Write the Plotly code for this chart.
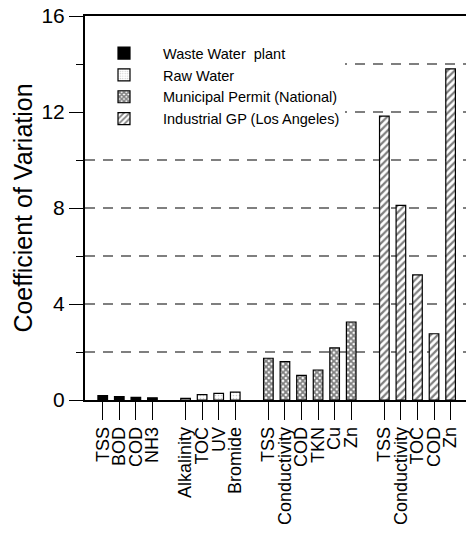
import plotly.graph_objects as go

# ---- data ----
series_names = ["Waste Water  plant", "Raw Water", "Municipal Permit (National)", "Industrial GP (Los Angeles)"]

ww_params = ["TSS", "BOD", "COD", "NH3"]
ww_cv = [0.18, 0.14, 0.11, 0.09]

raw_params = ["Alkalinity", "TOC", "UV", "Bromide"]
raw_cv = [0.07, 0.22, 0.28, 0.33]

mun_params = ["TSS", "Conductivity", "COD", "TKN", "Cu", "Zn"]
mun_cv = [1.74, 1.60, 1.03, 1.25, 2.17, 3.25]

ind_params = ["TSS", "Conductivity", "TOC", "COD", "Zn"]
ind_cv = [11.83, 8.11, 5.21, 2.76, 13.8]

y_tick_vals = [0, 4, 8, 12, 16]

groups = [ww_params, raw_params, mun_params, ind_params]
values = [ww_cv, raw_cv, mun_cv, ind_cv]

# category slots: groups separated by one empty slot gap
positions = []
start = 0
for g in groups:
    positions.append([start + i for i in range(len(g))])
    start += len(g) + 1

styles = [
    dict(marker_color="black", marker_pattern=dict(shape="")),
    dict(marker_color="white", marker_pattern=dict(shape=".", fgcolor="#999999", bgcolor="white", size=3, solidity=0.25)),
    dict(marker_color="black", marker_pattern=dict(shape="x", fgcolor="black", bgcolor="white", size=4, solidity=0.7)),
    dict(marker_color="white", marker_pattern=dict(shape="/", fgcolor="black", bgcolor="white", size=5, solidity=0.45)),
]

FONT = "Liberation Sans, Arial, sans-serif"

fig = go.Figure()
for name, pos, vals, st in zip(series_names, positions, values, styles):
    fig.add_trace(go.Bar(
        x=pos, y=vals, name=name, width=0.58,
        marker_line=dict(color="black", width=1.2),
        **st,
    ))

all_pos = [p for ps in positions for p in ps]
all_lab = [l for g in groups for l in g]

# dashed horizontal gridlines at the minor levels
for v in range(2, 16, 2):
    fig.add_shape(type="line", xref="paper", x0=0, x1=1, yref="y", y0=v, y1=v,
                  line=dict(color="black", width=1.2, dash="10px,8px"), layer="below")

fig.update_layout(
    width=468, height=537,
    margin=dict(l=85, r=2, t=16, b=137),
    paper_bgcolor="white", plot_bgcolor="white",
    font=dict(family=FONT, color="black"),
    showlegend=True,
    barmode="overlay",
    legend=dict(x=0.0, y=0.945, xanchor="left", yanchor="top",
                bgcolor="white", font=dict(size=14.5, family=FONT),
                itemwidth=68, tracegroupgap=0, traceorder="normal"),
    xaxis=dict(
        range=[-1.07, 21.93],
        tickmode="array", tickvals=all_pos, ticktext=all_lab,
        tickangle=-90, tickfont=dict(size=18, family=FONT),
        ticks="outside", ticklen=18, tickwidth=1, tickcolor="black",
        showline=True, linecolor="black", linewidth=1.5, mirror=True,
        showgrid=False, zeroline=False,
    ),
    yaxis=dict(
        range=[0, 16],
        tickmode="array", tickvals=y_tick_vals,
        tickfont=dict(size=21, family=FONT),
        ticks="outside", ticklen=14, tickwidth=1, tickcolor="black",
        minor=dict(dtick=2, ticks="outside", ticklen=7, tickcolor="black", showgrid=False),
        showline=True, linecolor="black", linewidth=2,
        showgrid=False, zeroline=False,
        title=dict(text="Coefficient of Variation", font=dict(size=25, family=FONT), standoff=2),
    ),
)

fig.write_html("out.html", config={"displayModeBar": False},
               post_script="document.body.style.margin='0';document.body.style.overflow='hidden';")
